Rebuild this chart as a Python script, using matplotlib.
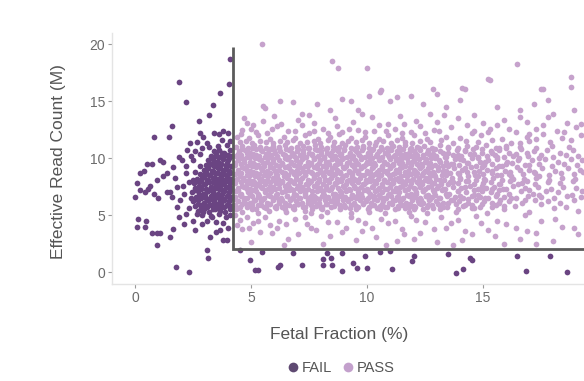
import numpy as np
import matplotlib
matplotlib.use("Agg")
import matplotlib.pyplot as plt
from matplotlib.lines import Line2D

plt.rcParams['font.family'] = ['Liberation Sans', 'DejaVu Sans']

# categorias y colores
categories = ["FAIL", "PASS"]
colors = {"FAIL": "#6a4482", "PASS": "#c6a2cc"}
legend_colors = {"FAIL": "#5f4a72", "PASS": "#c3a0cc"}

# umbrales de QC (lineas grises)
ff_cut = 4.2
count_cut = 2.0
count_top = 19.8

x_ticks = [0, 5, 10, 15]
y_ticks = [0, 5, 10, 15, 20]

# puntos PASS (fraccion fetal %, lectura efectiva M) estimados de la figura
pass_pts = [
    # bajo el nucleo
    (5.0,2.6),(6.6,2.9),(8.1,2.5),(9.5,2.8),(10.8,2.4),(12.0,2.9),(13.0,2.6),(14.1,2.8),(15.9,2.5),(16.6,2.9),(18.0,2.7),
    (4.6,3.8),(5.4,3.5),(6.1,3.9),(7.0,3.3),(7.8,3.7),(8.4,3.2),(9.1,3.9),(9.8,3.6),(10.4,3.1),(11.5,3.8),(12.3,3.4),
    (13.4,3.9),(14.5,3.3),(15.2,3.7),(16.4,3.9),(17.3,3.4),(4.4,4.1),(4.9,3.9),(5.8,4.1),(18.9,3.9),
    (4.5,4.6),(5.1,4.3),(5.6,4.8),(6.2,4.5),(6.9,4.7),(7.4,4.2),(8.0,4.9),(8.7,4.4),(9.3,4.8),(9.9,4.3),(10.6,4.7),
    (11.2,4.5),(11.9,4.9),(12.5,4.4),(13.2,4.8),(13.9,4.6),(14.7,4.9),(15.6,4.5),(16.8,5.0),(18.1,4.7),(4.3,5.0),(4.8,4.8),
    (5.3,4.5),(5.9,3.4),(6.5,4.2),(7.3,4.8),(7.6,3.9),(8.3,4.4),(8.9,3.5),(9.6,4.6),(10.2,3.9),(10.9,4.3),(11.6,3.3),
    (12.1,4.6),(12.9,3.8),(13.6,4.3),(14.2,3.6),(14.9,4.3),(15.5,3.2),(16.0,4.2),(16.9,3.6),(17.5,4.5),(18.4,4.0),
    (19.1,3.3),(6.4,2.4),(11.3,2.7),(13.7,2.4),(17.3,2.5),
    # nucleo
    (4.36,5.5),(4.62,5.3),(5.03,5.5),(5.29,5.2),(5.78,5.4),(6.06,5.6),(6.52,5.3),(6.83,5.5),(7.31,5.4),(7.58,5.2),
    (8.07,5.5),(8.29,5.3),(8.82,5.6),(9.31,5.2),(9.54,5.5),(10.06,5.3),(10.57,5.5),(10.79,5.2),(11.32,5.6),(11.81,5.3),
    (12.04,5.5),(12.56,5.2),(13.12,5.5),(13.82,5.3),(14.52,5.6),(15.18,5.2),(15.91,5.5),(16.97,5.3),(18.07,5.6),(19.1,5.4),
    (4.42,5.6),(4.83,5.7),(5.21,5.5),(5.64,5.6),(6.02,5.7),(6.45,5.5),(6.81,5.6),(7.24,5.7),(7.63,5.5),(8.01,5.6),
    (8.44,5.7),(8.82,5.5),(9.25,5.6),(9.61,5.7),(10.03,5.5),(10.42,5.6),(10.84,5.7),(11.22,5.5),(11.63,5.6),(12.05,5.7),
    (12.41,5.5),(12.84,5.6),(13.27,5.7),(13.9,5.5),(14.6,5.6),(15.4,5.7),
    (4.3,5.9),(4.52,5.7),(4.81,6.0),(5.03,5.8),(5.29,5.9),(5.57,5.7),(5.78,6.0),(6.06,5.8),(6.31,5.7),(6.52,5.9),
    (6.83,5.8),(7.04,6.0),(7.31,5.7),(7.58,5.9),(7.79,5.8),(8.07,5.7),(8.29,6.0),(8.56,5.8),(8.82,5.9),(9.03,5.7),
    (9.31,5.9),(9.54,5.8),(9.83,6.0),(10.06,5.7),(10.28,5.9),(10.57,5.8),(10.79,5.7),(11.06,6.0),(11.32,5.8),(11.53,5.9),
    (11.81,5.7),(12.04,5.8),(12.33,6.0),(12.56,5.7),(12.78,5.9),(13.12,5.8),(13.43,5.7),(13.82,6.0),(14.13,5.8),(14.52,5.9),
    (14.86,5.7),(15.57,5.9),(16.38,5.8),(17.48,6.0),(18.58,5.7),
    (4.6,6.0),(5.02,6.1),(5.41,5.9),(5.83,6.0),(6.22,6.1),(6.64,5.9),(7.02,6.0),(7.43,6.1),(7.82,5.9),(8.22,6.0),
    (8.63,6.1),(9.02,5.9),(9.44,6.0),(9.82,6.1),(10.23,5.9),(10.62,6.0),(11.03,6.1),(11.42,5.9),(11.84,6.0),(12.23,6.1),
    (12.62,5.9),(13.05,6.0),(13.5,6.1),(14.2,5.9),(14.95,6.0),(15.7,6.1),
    (4.42,6.2),(4.68,6.3),(4.93,6.1),(5.17,6.3),(5.43,6.2),(5.69,6.1),(5.92,6.3),(6.18,6.2),(6.44,6.1),(6.68,6.3),
    (6.94,6.2),(7.18,6.1),(7.44,6.3),(7.69,6.2),(7.93,6.1),(8.19,6.3),(8.43,6.2),(8.69,6.1),(8.94,6.3),(9.18,6.2),
    (9.43,6.1),(9.69,6.3),(9.94,6.2),(10.18,6.1),(10.43,6.3),(10.68,6.2),(10.93,6.1),(11.19,6.3),(11.43,6.2),(11.68,6.1),
    (11.94,6.3),(12.19,6.2),(12.43,6.1),(12.68,6.3),(12.96,6.2),(13.27,6.1),(13.62,6.3),(13.98,6.2),(14.33,6.1),(14.69,6.3),
    (15.02,6.2),(15.38,6.1),(15.74,6.3),(16.12,6.2),(16.66,6.1),(17.22,6.3),(17.79,6.2),(18.33,6.1),(18.9,6.3),
    (4.32,6.4),(4.71,6.5),(5.12,6.3),(5.5,6.4),(5.92,6.5),(6.33,6.3),(6.72,6.4),(7.11,6.5),(7.52,6.3),(7.92,6.4),
    (8.31,6.5),(8.72,6.3),(9.13,6.4),(9.52,6.5),(9.93,6.3),(10.31,6.4),(10.72,6.5),(11.13,6.3),(11.51,6.4),(11.92,6.5),
    (12.32,6.3),(12.72,6.4),(13.15,6.5),(13.7,6.3),(14.35,6.4),(15.1,6.5),
    (4.3,6.6),(4.55,6.7),(4.8,6.5),(5.05,6.7),(5.3,6.6),(5.55,6.5),(5.8,6.7),(6.05,6.6),(6.3,6.5),(6.55,6.7),
    (6.8,6.6),(7.05,6.5),(7.3,6.7),(7.55,6.6),(7.8,6.5),(8.05,6.7),(8.3,6.6),(8.55,6.5),(8.8,6.7),(9.05,6.6),
    (9.3,6.5),(9.55,6.7),(9.8,6.6),(10.05,6.5),(10.3,6.7),(10.55,6.6),(10.8,6.5),(11.05,6.7),(11.3,6.6),(11.55,6.5),
    (11.8,6.7),(12.05,6.6),(12.3,6.5),(12.55,6.7),(12.8,6.6),(13.1,6.5),(13.45,6.7),(13.8,6.6),(14.15,6.5),(14.5,6.7),
    (14.85,6.6),(15.2,6.5),(15.55,6.7),(15.9,6.6),(16.4,6.5),(16.95,6.7),(17.5,6.6),(18.05,6.5),(18.6,6.7),(19.2,6.6),
    (4.52,6.8),(4.93,6.9),(5.32,6.7),(5.73,6.8),(6.12,6.9),(6.53,6.7),(6.92,6.8),(7.33,6.9),(7.72,6.7),(8.12,6.8),
    (8.52,6.9),(8.92,6.7),(9.33,6.8),(9.72,6.9),(10.12,6.7),(10.52,6.8),(10.93,6.9),(11.32,6.7),(11.72,6.8),(12.12,6.9),
    (12.52,6.7),(12.93,6.8),(13.38,6.9),(14.0,6.7),(14.8,6.8),(15.6,6.9),
    (4.34,7.1),(4.57,6.9),(4.86,7.0),(5.08,7.2),(5.31,6.9),(5.6,7.0),(5.84,7.1),(6.09,6.8),(6.33,7.0),(6.61,7.2),
    (6.85,6.9),(7.1,7.1),(7.33,7.0),(7.62,6.8),(7.86,7.1),(8.11,7.0),(8.34,7.2),(8.6,6.9),(8.87,7.0),(9.1,7.1),
    (9.36,6.8),(9.6,7.0),(9.87,7.2),(10.12,6.9),(10.35,7.1),(10.63,7.0),(10.88,6.8),(11.12,7.1),(11.36,7.0),(11.64,7.2),
    (11.88,6.9),(12.12,7.0),(12.39,7.1),(12.63,6.8),(12.9,7.0),(13.21,7.2),(13.55,6.9),(13.9,7.1),(14.27,7.0),(14.6,6.8),
    (14.96,7.1),(15.33,7.0),(15.7,7.2),(16.1,6.9),(16.62,7.1),(17.15,6.9),(17.71,7.1),(18.24,7.0),(18.82,6.8),(19.28,7.1),
    (4.42,7.2),(4.83,7.3),(5.21,7.1),(5.64,7.2),(6.02,7.3),(6.45,7.1),(6.81,7.2),(7.24,7.3),(7.63,7.1),(8.01,7.2),
    (8.44,7.3),(8.82,7.1),(9.25,7.2),(9.61,7.3),(10.03,7.1),(10.42,7.2),(10.84,7.3),(11.22,7.1),(11.63,7.2),(12.05,7.3),
    (12.41,7.1),(12.84,7.2),(13.27,7.3),(13.9,7.1),(14.6,7.2),(15.4,7.3),
    (4.45,7.4),(4.7,7.5),(4.96,7.3),(5.2,7.6),(5.45,7.4),(5.72,7.3),(5.96,7.5),(6.2,7.4),(6.47,7.6),(6.72,7.3),
    (6.97,7.4),(7.21,7.5),(7.47,7.3),(7.73,7.6),(7.98,7.4),(8.22,7.3),(8.47,7.5),(8.74,7.4),(8.98,7.6),(9.23,7.3),
    (9.48,7.4),(9.74,7.5),(9.99,7.3),(10.24,7.6),(10.49,7.4),(10.75,7.3),(11.0,7.5),(11.24,7.4),(11.5,7.6),(11.75,7.3),
    (12.0,7.4),(12.26,7.5),(12.51,7.3),(12.75,7.6),(13.02,7.4),(13.36,7.3),(13.7,7.5),(14.05,7.4),(14.42,7.6),(14.76,7.3),
    (15.12,7.4),(15.48,7.5),(15.86,7.3),(16.28,7.6),(16.8,7.4),(17.36,7.5),(17.92,7.3),(18.45,7.5),(19.0,7.4),
    (4.6,7.6),(5.02,7.7),(5.41,7.5),(5.83,7.6),(6.22,7.7),(6.64,7.5),(7.02,7.6),(7.43,7.7),(7.82,7.5),(8.22,7.6),
    (8.63,7.7),(9.02,7.5),(9.44,7.6),(9.82,7.7),(10.23,7.5),(10.62,7.6),(11.03,7.7),(11.42,7.5),(11.84,7.6),(12.23,7.7),
    (12.62,7.5),(13.05,7.6),(13.5,7.7),(14.2,7.5),(14.95,7.6),(15.7,7.7),
    (4.3,7.8),(4.58,7.9),(4.82,7.7),(5.07,8.0),(5.33,7.8),(5.58,7.7),(5.83,7.9),(6.08,7.8),(6.35,8.0),(6.58,7.7),
    (6.84,7.8),(7.09,7.9),(7.35,7.7),(7.6,8.0),(7.84,7.8),(8.1,7.7),(8.36,7.9),(8.6,7.8),(8.86,8.0),(9.11,7.7),
    (9.36,7.8),(9.62,7.9),(9.86,7.7),(10.11,8.0),(10.37,7.8),(10.62,7.7),(10.86,7.9),(11.12,7.8),(11.38,8.0),(11.62,7.7),
    (11.87,7.8),(12.13,7.9),(12.38,7.7),(12.63,8.0),(12.88,7.8),(13.2,7.7),(13.56,7.9),(13.92,7.8),(14.26,8.0),(14.62,7.7),
    (14.98,7.8),(15.34,7.9),(15.72,7.7),(16.15,8.0),(16.68,7.8),(17.22,7.7),(17.78,7.9),(18.33,7.8),(18.86,8.0),
    (4.32,8.0),(4.71,8.1),(5.12,7.9),(5.5,8.0),(5.92,8.1),(6.33,7.9),(6.72,8.0),(7.11,8.1),(7.52,7.9),(7.92,8.0),
    (8.31,8.1),(8.72,7.9),(9.13,8.0),(9.52,8.1),(9.93,7.9),(10.31,8.0),(10.72,8.1),(11.13,7.9),(11.51,8.0),(11.92,8.1),
    (12.32,7.9),(12.72,8.0),(13.15,8.1),(13.7,7.9),(14.35,8.0),(15.1,8.1),
    (4.4,8.2),(4.66,8.3),(4.92,8.1),(5.16,8.4),(5.42,8.2),(5.68,8.1),(5.92,8.3),(6.17,8.2),(6.43,8.4),(6.68,8.1),
    (6.93,8.2),(7.18,8.3),(7.43,8.1),(7.69,8.4),(7.94,8.2),(8.19,8.1),(8.44,8.3),(8.7,8.2),(8.95,8.4),(9.2,8.1),
    (9.45,8.2),(9.71,8.3),(9.96,8.1),(10.21,8.4),(10.46,8.2),(10.72,8.1),(10.97,8.3),(11.22,8.2),(11.47,8.4),(11.72,8.1),
    (11.98,8.2),(12.23,8.3),(12.48,8.1),(12.73,8.4),(12.98,8.2),(13.3,8.1),(13.65,8.3),(14.0,8.2),(14.36,8.4),(14.71,8.1),
    (15.06,8.2),(15.42,8.3),(15.8,8.1),(16.22,8.4),(16.75,8.2),(17.3,8.3),(17.86,8.1),(18.4,8.3),(18.95,8.2),
    (4.52,8.4),(4.93,8.5),(5.32,8.3),(5.73,8.4),(6.12,8.5),(6.53,8.3),(6.92,8.4),(7.33,8.5),(7.72,8.3),(8.12,8.4),
    (8.52,8.5),(8.92,8.3),(9.33,8.4),(9.72,8.5),(10.12,8.3),(10.52,8.4),(10.93,8.5),(11.32,8.3),(11.72,8.4),(12.12,8.5),
    (12.52,8.3),(12.93,8.4),(13.38,8.5),(14.0,8.3),(14.8,8.4),(15.6,8.5),
    (4.32,8.6),(4.56,8.7),(4.83,8.5),(5.06,8.8),(5.32,8.6),(5.57,8.5),(5.82,8.7),(6.07,8.6),(6.33,8.8),(6.57,8.5),
    (6.83,8.6),(7.08,8.7),(7.34,8.5),(7.59,8.8),(7.84,8.6),(8.09,8.5),(8.35,8.7),(8.6,8.6),(8.85,8.8),(9.1,8.5),
    (9.35,8.6),(9.61,8.7),(9.86,8.5),(10.11,8.8),(10.36,8.6),(10.61,8.5),(10.87,8.7),(11.12,8.6),(11.37,8.8),(11.62,8.5),
    (11.88,8.6),(12.13,8.7),(12.38,8.5),(12.63,8.8),(12.9,8.6),(13.22,8.5),(13.58,8.7),(13.94,8.6),(14.3,8.8),(14.66,8.5),
    (15.01,8.6),(15.38,8.7),(15.76,8.5),(16.18,8.8),(16.7,8.6),(17.25,8.7),(17.82,8.5),(18.36,8.7),(18.9,8.6),(19.3,8.8),
    (4.42,8.8),(4.83,8.9),(5.21,8.7),(5.64,8.8),(6.02,8.9),(6.45,8.7),(6.81,8.8),(7.24,8.9),(7.63,8.7),(8.01,8.8),
    (8.44,8.9),(8.82,8.7),(9.25,8.8),(9.61,8.9),(10.03,8.7),(10.42,8.8),(10.84,8.9),(11.22,8.7),(11.63,8.8),(12.05,8.9),
    (12.41,8.7),(12.84,8.8),(13.27,8.9),(13.9,8.7),(14.6,8.8),(15.4,8.9),
    (4.44,9.0),(4.7,9.1),(4.95,8.9),(5.2,9.2),(5.45,9.0),(5.7,8.9),(5.95,9.1),(6.2,9.0),(6.46,9.2),(6.71,8.9),
    (6.96,9.0),(7.21,9.1),(7.46,8.9),(7.72,9.2),(7.97,9.0),(8.22,8.9),(8.47,9.1),(8.72,9.0),(8.98,9.2),(9.23,8.9),
    (9.48,9.0),(9.73,9.1),(9.98,8.9),(10.24,9.2),(10.49,9.0),(10.74,8.9),(10.99,9.1),(11.25,9.0),(11.5,9.2),(11.75,8.9),
    (12.0,9.0),(12.26,9.1),(12.51,8.9),(12.76,9.2),(13.05,9.0),(13.4,8.9),(13.75,9.1),(14.1,9.0),(14.46,9.2),(14.82,8.9),
    (15.18,9.0),(15.55,9.1),(15.95,8.9),(16.45,9.2),(16.98,9.0),(17.55,9.1),(18.1,8.9),(18.65,9.1),(19.18,9.0),
    (4.6,9.2),(5.02,9.3),(5.41,9.1),(5.83,9.2),(6.22,9.3),(6.64,9.1),(7.02,9.2),(7.43,9.3),(7.82,9.1),(8.22,9.2),
    (8.63,9.3),(9.02,9.1),(9.44,9.2),(9.82,9.3),(10.23,9.1),(10.62,9.2),(11.03,9.3),(11.42,9.1),(11.84,9.2),(12.23,9.3),
    (12.62,9.1),(13.05,9.2),(13.5,9.3),(14.2,9.1),(14.95,9.2),(15.7,9.3),
    (4.3,9.4),(4.55,9.5),(4.81,9.3),(5.06,9.6),(5.31,9.4),(5.57,9.3),(5.82,9.5),(6.07,9.4),(6.32,9.6),(6.58,9.3),
    (6.83,9.4),(7.08,9.5),(7.33,9.3),(7.59,9.6),(7.84,9.4),(8.09,9.3),(8.34,9.5),(8.6,9.4),(8.85,9.6),(9.1,9.3),
    (9.35,9.4),(9.61,9.5),(9.86,9.3),(10.11,9.6),(10.36,9.4),(10.62,9.3),(10.87,9.5),(11.12,9.4),(11.37,9.6),(11.63,9.3),
    (11.88,9.4),(12.13,9.5),(12.38,9.3),(12.64,9.6),(12.92,9.4),(13.25,9.3),(13.6,9.5),(13.96,9.4),(14.32,9.6),(14.68,9.3),
    (15.04,9.4),(15.4,9.5),(15.8,9.3),(16.25,9.6),(16.8,9.4),(17.4,9.5),(17.95,9.3),(18.5,9.5),(19.05,9.4),
    (4.32,9.6),(4.71,9.7),(5.12,9.5),(5.5,9.6),(5.92,9.7),(6.33,9.5),(6.72,9.6),(7.11,9.7),(7.52,9.5),(7.92,9.6),
    (8.31,9.7),(8.72,9.5),(9.13,9.6),(9.52,9.7),(9.93,9.5),(10.31,9.6),(10.72,9.7),(11.13,9.5),(11.51,9.6),(11.92,9.7),
    (12.32,9.5),(12.72,9.6),(13.15,9.7),(13.7,9.5),(14.35,9.6),(15.1,9.7),
    (4.42,9.8),(4.68,9.9),(4.93,9.7),(5.18,10.0),(5.44,9.8),(5.69,9.7),(5.94,9.9),(6.19,9.8),(6.45,10.0),(6.7,9.7),
    (6.95,9.8),(7.2,9.9),(7.46,9.7),(7.71,10.0),(7.96,9.8),(8.21,9.7),(8.47,9.9),(8.72,9.8),(8.97,10.0),(9.22,9.7),
    (9.48,9.8),(9.73,9.9),(9.98,9.7),(10.23,10.0),(10.49,9.8),(10.74,9.7),(10.99,9.9),(11.24,9.8),(11.5,10.0),(11.75,9.7),
    (12.0,9.8),(12.25,9.9),(12.51,9.7),(12.76,10.0),(13.08,9.8),(13.42,9.7),(13.78,9.9),(14.14,9.8),(14.5,10.0),(14.86,9.7),
    (15.22,9.8),(15.6,9.9),(16.02,9.7),(16.55,10.0),(17.1,9.8),(17.68,9.9),(18.22,9.7),(18.78,9.9),(19.25,9.8),
    (4.52,10.0),(4.93,10.1),(5.32,9.9),(5.73,10.0),(6.12,10.1),(6.53,9.9),(6.92,10.0),(7.33,10.1),(7.72,9.9),(8.12,10.0),
    (8.52,10.1),(8.92,9.9),(9.33,10.0),(9.72,10.1),(10.12,9.9),(10.52,10.0),(10.93,10.1),(11.32,9.9),(11.72,10.0),(12.12,10.1),
    (12.52,9.9),(12.93,10.0),(13.38,10.1),(14.0,9.9),(14.8,10.0),(15.6,10.1),
    (4.33,10.2),(4.58,10.3),(4.84,10.1),(5.09,10.4),(5.34,10.2),(5.6,10.1),(5.85,10.3),(6.1,10.2),(6.36,10.4),(6.61,10.1),
    (6.86,10.2),(7.11,10.3),(7.37,10.1),(7.62,10.4),(7.87,10.2),(8.12,10.1),(8.38,10.3),(8.63,10.2),(8.88,10.4),(9.13,10.1),
    (9.39,10.2),(9.64,10.3),(9.89,10.1),(10.14,10.4),(10.4,10.2),(10.65,10.1),(10.9,10.3),(11.15,10.2),(11.41,10.4),(11.66,10.1),
    (11.91,10.2),(12.16,10.3),(12.42,10.1),(12.68,10.4),(12.98,10.2),(13.34,10.1),(13.7,10.3),(14.06,10.2),(14.42,10.4),(14.78,10.1),
    (15.15,10.2),(15.52,10.3),(15.92,10.1),(16.4,10.4),(16.92,10.2),(17.48,10.3),(18.02,10.1),(18.56,10.3),(19.1,10.2),
    (4.42,10.4),(4.83,10.5),(5.21,10.3),(5.64,10.4),(6.02,10.5),(6.45,10.3),(6.81,10.4),(7.24,10.5),(7.63,10.3),(8.01,10.4),
    (8.44,10.5),(8.82,10.3),(9.25,10.4),(9.61,10.5),(10.03,10.3),(10.42,10.4),(10.84,10.5),(11.22,10.3),(11.63,10.4),(12.05,10.5),
    (12.41,10.3),(12.84,10.4),(13.27,10.5),(13.9,10.3),(14.6,10.4),(15.4,10.5),
    (4.46,10.6),(4.72,10.7),(4.97,10.5),(5.22,10.8),(5.48,10.6),(5.73,10.5),(5.98,10.7),(6.23,10.6),(6.49,10.8),(6.74,10.5),
    (6.99,10.6),(7.24,10.7),(7.5,10.5),(7.75,10.8),(8.0,10.6),(8.25,10.5),(8.51,10.7),(8.76,10.6),(9.01,10.8),(9.26,10.5),
    (9.52,10.6),(9.77,10.7),(10.02,10.5),(10.27,10.8),(10.53,10.6),(10.78,10.5),(11.03,10.7),(11.28,10.6),(11.54,10.8),(11.79,10.5),
    (12.04,10.6),(12.29,10.7),(12.56,10.5),(12.84,10.8),(13.15,10.6),(13.5,10.5),(13.86,10.7),(14.22,10.6),(14.58,10.8),(14.95,10.5),
    (15.32,10.6),(15.7,10.7),(16.12,10.5),(16.62,10.8),(17.2,10.6),(17.75,10.7),(18.3,10.5),(18.88,10.7),
    (4.6,10.8),(5.02,10.9),(5.41,10.7),(5.83,10.8),(6.22,10.9),(6.64,10.7),(7.02,10.8),(7.43,10.9),(7.82,10.7),(8.22,10.8),
    (8.63,10.9),(9.02,10.7),(9.44,10.8),(9.82,10.9),(10.23,10.7),(10.62,10.8),(11.03,10.9),(11.42,10.7),(11.84,10.8),(12.23,10.9),
    (12.62,10.7),(12.93,10.8),(13.5,10.9),(14.2,10.7),(14.95,10.8),(15.7,10.9),
    (4.35,11.0),(4.62,11.1),(4.88,10.9),(5.14,11.2),(5.4,11.0),(5.66,10.9),(5.92,11.1),(6.18,11.0),(6.44,11.2),(6.7,10.9),
    (6.96,11.0),(7.22,11.1),(7.48,10.9),(7.74,11.2),(8.0,11.0),(8.26,10.9),(8.52,11.1),(8.78,11.0),(9.04,11.2),(9.3,10.9),
    (9.56,11.0),(9.82,11.1),(10.08,10.9),(10.34,11.2),(10.6,11.0),(10.86,10.9),(11.12,11.1),(11.38,11.0),(11.64,11.2),(11.9,10.9),
    (12.16,11.0),(12.45,11.1),(12.78,10.9),(13.12,11.2),(13.5,11.0),(13.9,10.9),(14.3,11.1),(14.7,11.0),(15.12,11.2),(15.55,10.9),
    (16.0,11.1),(16.6,11.0),(17.3,10.9),(17.95,11.1),(18.7,11.0),
    (4.5,11.4),(4.78,11.5),(5.05,11.3),(5.36,11.5),(5.62,11.4),(5.95,11.3),(6.24,11.5),(6.55,11.4),(6.82,11.6),(7.12,11.3),
    (7.4,11.4),(7.7,11.5),(7.98,11.3),(8.3,11.6),(8.58,11.4),(8.9,11.3),(9.18,11.5),(9.5,11.4),(9.78,11.6),(10.1,11.3),
    (10.4,11.4),(10.7,11.5),(11.02,11.3),(11.3,11.6),(11.62,11.4),(11.95,11.3),(12.3,11.5),(12.7,11.4),(13.2,11.6),(13.7,11.3),
    (14.25,11.5),(14.8,11.4),(15.4,11.6),(16.2,11.3),(17.0,11.5),(17.9,11.4),(18.8,11.6),
    # relleno entre 15.9 y 17.5
    (16.0,7.3),(16.5,7.7),(17.0,7.2),(16.3,8.2),(16.9,8.0),(17.4,8.4),(16.1,8.6),(16.6,9.0),(17.2,8.8),
    (16.0,9.5),(16.5,9.8),(17.0,9.4),(16.3,10.2),(16.9,10.5),(17.4,10.0),(16.0,10.9),(16.6,11.3),(17.3,11.7),
    (16.2,6.5),(16.8,6.3),(17.4,6.8),(15.9,5.8),
    # borde superior disperso
    (4.4,11.9),(4.9,11.8),(5.3,12.0),(5.8,11.7),(6.4,11.9),(6.9,11.8),(7.3,12.0),(7.9,11.7),(8.4,11.9),(8.8,12.1),
    (9.3,11.8),(9.9,11.9),(10.5,11.7),(10.9,12.0),(11.5,11.8),(12.0,12.0),(12.6,11.7),(13.4,11.9),(14.0,11.8),(14.9,12.0),
    (15.8,11.7),(16.9,11.9),(17.6,12.1),(18.4,11.8),(19.2,12.0),
    (4.6,12.5),(5.2,12.3),(5.9,12.6),(6.6,12.4),(7.5,12.2),(8.1,12.6),(8.9,12.3),(9.6,12.5),(10.3,12.4),(11.2,12.6),
    (11.9,12.3),(12.9,12.5),(13.6,12.7),(14.6,12.4),(15.3,12.6),(16.4,12.3),(17.3,12.6),(18.2,12.4),(19.0,12.7),
    (4.55,12.1),(5.0,12.6),(5.7,12.2),(6.1,12.8),(6.9,12.4),(7.2,12.9),(7.7,12.4),(8.3,12.2),(8.7,12.8),(9.2,12.6),
    (9.9,12.3),(10.5,12.9),(10.8,12.4),(11.5,12.2),(11.6,13.0),(12.3,12.8),(12.5,12.2),(13.1,12.4),(13.3,13.8),(14.3,12.9),
    (14.5,12.2),(15.2,12.3),(15.6,12.9),(16.1,12.6),(16.6,13.6),(17.0,12.1),(17.6,12.9),(18.0,13.9),(18.5,12.3),(19.2,13.0),
    (6.0,13.7),(7.5,13.8),(9.8,13.9),(11.4,13.7),(12.7,13.9),(14.6,13.8),
    (4.8,13.1),(5.5,13.3),(6.3,13.0),(7.0,13.4),(7.7,13.1),(8.6,13.5),(9.4,13.2),(10.2,13.6),(10.9,13.0),(12.1,13.3),
    (13.0,13.2),(13.9,13.5),(15.0,13.1),(15.9,13.4),(16.9,13.2),(17.8,13.6),(18.6,13.1),
    (4.67,13.5),(5.1,12.9),(5.53,14.6),(5.6,14.4),(6.25,15.0),(6.8,14.9),(7.2,13.9),(7.83,14.8),(8.4,14.2),(8.9,15.2),
    (9.3,15.0),(9.6,14.2),(10.1,15.5),(10.56,15.8),(10.6,16.0),(11.0,15.0),(11.3,15.4),(11.9,15.5),(12.4,14.8),(12.86,16.1),
    (13.0,15.6),(13.4,14.5),(14.0,15.1),(15.6,14.5),(16.6,14.2),(17.2,14.8),(17.8,15.1),(18.9,14.2),
    (5.46,20.0),(8.48,18.5),(8.76,17.9),(10.0,17.9),(16.45,18.3),(15.2,17.0),(15.3,16.9),(14.1,16.2),(14.2,16.1),
    (18.8,17.1),(18.8,16.3),(17.6,16.1),(17.5,16.1),
]

# puntos FAIL estimados de la figura
fail_pts = [
    # nucleo denso junto al umbral
    (2.9,5.0),(3.25,4.9),(3.6,5.1),(3.9,4.8),(4.1,5.0),
    (2.7,5.4),(2.95,5.5),(3.2,5.3),(3.42,5.5),(3.64,5.4),(3.86,5.3),(4.08,5.5),
    (2.85,5.6),(3.1,5.7),(3.35,5.5),(3.6,5.6),(3.85,5.7),
    (2.6,5.8),(2.82,5.9),(3.05,5.7),(3.27,5.9),(3.5,5.8),(3.72,5.7),(3.94,5.9),(4.12,5.8),
    (2.7,6.0),(2.95,6.1),(3.2,5.9),(3.45,6.0),(3.7,6.1),(3.95,5.9),
    (2.5,6.2),(2.72,6.3),(2.95,6.1),(3.17,6.3),(3.39,6.2),(3.61,6.1),(3.83,6.3),(4.05,6.2),
    (2.6,6.4),(2.85,6.5),(3.1,6.3),(3.35,6.4),(3.6,6.5),(3.85,6.3),(4.1,6.4),
    (2.62,6.6),(2.85,6.7),(3.07,6.5),(3.29,6.7),(3.51,6.6),(3.73,6.5),(3.95,6.7),(4.12,6.6),
    (2.75,6.8),(3.0,6.9),(3.25,6.7),(3.5,6.8),(3.75,6.9),(4.0,6.7),
    (2.45,7.0),(2.7,7.1),(2.93,6.9),(3.15,7.1),(3.37,7.0),(3.59,6.9),(3.81,7.1),(4.03,7.0),
    (2.6,7.2),(2.85,7.3),(3.1,7.1),(3.35,7.2),(3.6,7.3),(3.85,7.1),(4.1,7.2),
    (2.6,7.4),(2.83,7.5),(3.05,7.3),(3.27,7.5),(3.49,7.4),(3.71,7.3),(3.93,7.5),(4.12,7.4),
    (2.75,7.6),(3.0,7.7),(3.25,7.5),(3.5,7.6),(3.75,7.7),(4.0,7.5),
    (2.55,7.8),(2.76,7.9),(2.98,7.7),(3.2,7.9),(3.42,7.8),(3.64,7.7),(3.86,7.9),(4.07,7.8),
    (2.85,8.0),(3.1,8.1),(3.35,7.9),(3.6,8.0),(3.85,8.1),(4.1,7.9),
    (2.68,8.2),(2.9,8.3),(3.12,8.1),(3.34,8.3),(3.56,8.2),(3.78,8.1),(4.0,8.3),(4.13,8.2),
    (2.95,8.4),(3.2,8.5),(3.45,8.3),(3.7,8.4),(3.95,8.5),
    (2.8,8.6),(3.02,8.7),(3.24,8.5),(3.46,8.7),(3.68,8.6),(3.9,8.5),(4.1,8.7),
    (3.05,8.8),(3.3,8.9),(3.55,8.7),(3.8,8.8),(4.05,8.9),
    (2.95,9.0),(3.15,9.1),(3.37,8.9),(3.59,9.1),(3.81,9.0),(4.03,8.9),
    (3.15,9.2),(3.4,9.3),(3.65,9.1),(3.9,9.2),
    (3.05,9.4),(3.27,9.5),(3.49,9.3),(3.71,9.5),(3.93,9.4),(4.12,9.3),
    (3.2,9.6),(3.45,9.7),(3.7,9.5),(3.95,9.6),
    (3.12,9.8),(3.35,9.9),(3.57,9.7),(3.79,9.9),(4.01,9.8),
    (3.3,10.0),(3.55,10.1),(3.8,9.9),(4.05,10.0),
    (3.25,10.2),(3.48,10.3),(3.7,10.1),(3.92,10.3),(4.12,10.2),
    (3.5,10.4),(3.75,10.5),(4.0,10.3),
    (3.4,10.6),(3.63,10.7),(3.85,10.5),(4.07,10.7),
    (3.2,11.0),(3.55,11.1),(3.95,11.2),(3.75,11.6),(4.1,11.5),
    # nube dispersa a la izquierda
    (0.07,7.8),(0.22,8.7),(0.36,8.9),(0.5,9.5),(0.72,9.5),(1.08,9.8),(1.2,9.7),(0.93,8.1),(1.37,8.7),(1.65,9.2),
    (1.87,10.1),(2.0,9.8),(2.23,10.7),(2.37,11.3),(2.66,11.4),(2.94,11.9),(3.38,12.2),(3.6,12.1),(3.8,12.4),(4.0,12.2),
    (3.09,11.3),(2.8,10.4),(2.5,9.8),(2.2,8.7),(2.05,7.6),(2.5,8.1),(2.66,7.3),(1.8,7.5),(1.5,7.0),(0.65,7.6),
    (0.43,7.0),(0.22,7.2),(0.57,7.3),(0.79,6.9),(1.0,6.5),(1.37,7.0),(1.58,6.6),(1.94,6.3),(1.8,5.7),(2.3,5.6),
    (2.66,5.1),(2.94,5.3),(3.3,4.85),(3.5,4.4),(3.66,3.7),(0.0,6.6),(0.1,4.7),(0.45,4.5),(0.07,4.0),(0.43,4.0),
    (0.73,3.4),(0.93,3.45),(1.07,3.4),(0.93,2.4),(1.5,3.1),(1.65,3.8),(2.1,4.2),(2.6,3.7),(3.23,3.04),(3.5,3.5),
    (3.95,2.8),(3.8,2.85),(2.2,9.3),(2.4,10.2),(2.1,6.9),(2.3,7.9),(1.7,8.3),(1.2,8.4),(2.4,6.5),(2.2,5.1),
    (1.9,4.8),(2.5,4.5),(2.9,4.2),(3.1,4.5),(3.8,4.3),(4.0,3.9),(2.8,9.3),(2.6,8.8),(2.9,10.9),(2.6,10.6),
    # valores atipicos altos
    (1.9,16.7),(2.18,14.9),(1.58,12.8),(0.83,11.9),(1.44,11.9),(4.1,18.7),(4.05,16.5),(3.66,15.7),(3.35,14.7),
    (3.19,13.8),(2.73,13.3),(2.8,12.2),
    # por debajo del umbral de lecturas
    (1.75,0.47),(2.3,0.03),(3.09,1.9),(3.16,1.2),(4.96,1.05),(5.17,0.18),(5.3,0.15),(6.15,0.44),(5.46,1.78),
    (6.82,1.64),(7.18,0.61),(8.09,1.11),(8.09,0.61),(8.43,1.2),(8.5,0.6),(8.26,1.64),(8.9,1.7),(8.9,0.12),
    (9.38,0.82),(9.58,0.38),(9.91,1.4),(10.0,0.38),(10.56,1.78),(11.06,0.23),(11.0,1.85),(11.93,0.96),(12.0,1.43),
    (13.48,1.58),(13.82,-0.06),(14.12,0.23),(14.44,1.2),(14.5,1.1),(16.45,1.4),(16.85,0.12),(17.9,1.4),(18.63,0.03),
    (6.25,0.6),(4.5,1.9),
]

pass_x, pass_y = np.array(pass_pts).T
fail_x, fail_y = np.array(fail_pts).T

fig = plt.figure(figsize=(5.84, 3.81), dpi=100)
ax = fig.add_axes([112 / 584, 97 / 381, 472 / 584, 251 / 381])

ax.scatter(pass_x, pass_y, s=17, color=colors["PASS"], linewidths=0, zorder=2)
ax.scatter(fail_x, fail_y, s=17, color=colors["FAIL"], linewidths=0, zorder=3)

# lineas de umbral
ax.plot([ff_cut, ff_cut, 25], [count_top, count_cut, count_cut], color="#5b5b5b",
        lw=2, solid_joinstyle="miter", solid_capstyle="butt", zorder=4)

ax.set_xlim(-1.0, 19.35)
ax.set_ylim(-1.05, 21)
ax.set_xticks(x_ticks)
ax.set_yticks(y_ticks)

for s in ["top", "right"]:
    ax.spines[s].set_visible(False)
for s in ["left", "bottom"]:
    ax.spines[s].set_color("#e4e4e4")
    ax.spines[s].set_linewidth(1)

ax.tick_params(length=3, width=0.8, color="#9a9a9a", labelcolor="#6b6b6b",
               labelsize=10, pad=2)

fig.text(59 / 584, 1 - 162 / 381, "Effective Read Count (M)", rotation=90,
         ha="center", va="center", fontsize=12.5, color="#555555")
fig.text(339 / 584, 1 - 335 / 381, "Fetal Fraction (%)",
         ha="center", va="center", fontsize=12.5, color="#555555")

handles = [Line2D([], [], marker="o", ls="", markersize=7,
                  markerfacecolor=legend_colors[c], markeredgewidth=0) for c in categories]
fig.legend(handles, categories, loc="center", bbox_to_anchor=(340 / 584, 1 - 368 / 381),
           ncol=2, frameon=False, fontsize=10.5, handletextpad=0.1, columnspacing=0.6,
           handlelength=1.0, labelcolor="#555555")

fig.savefig("out.png", dpi=100)
